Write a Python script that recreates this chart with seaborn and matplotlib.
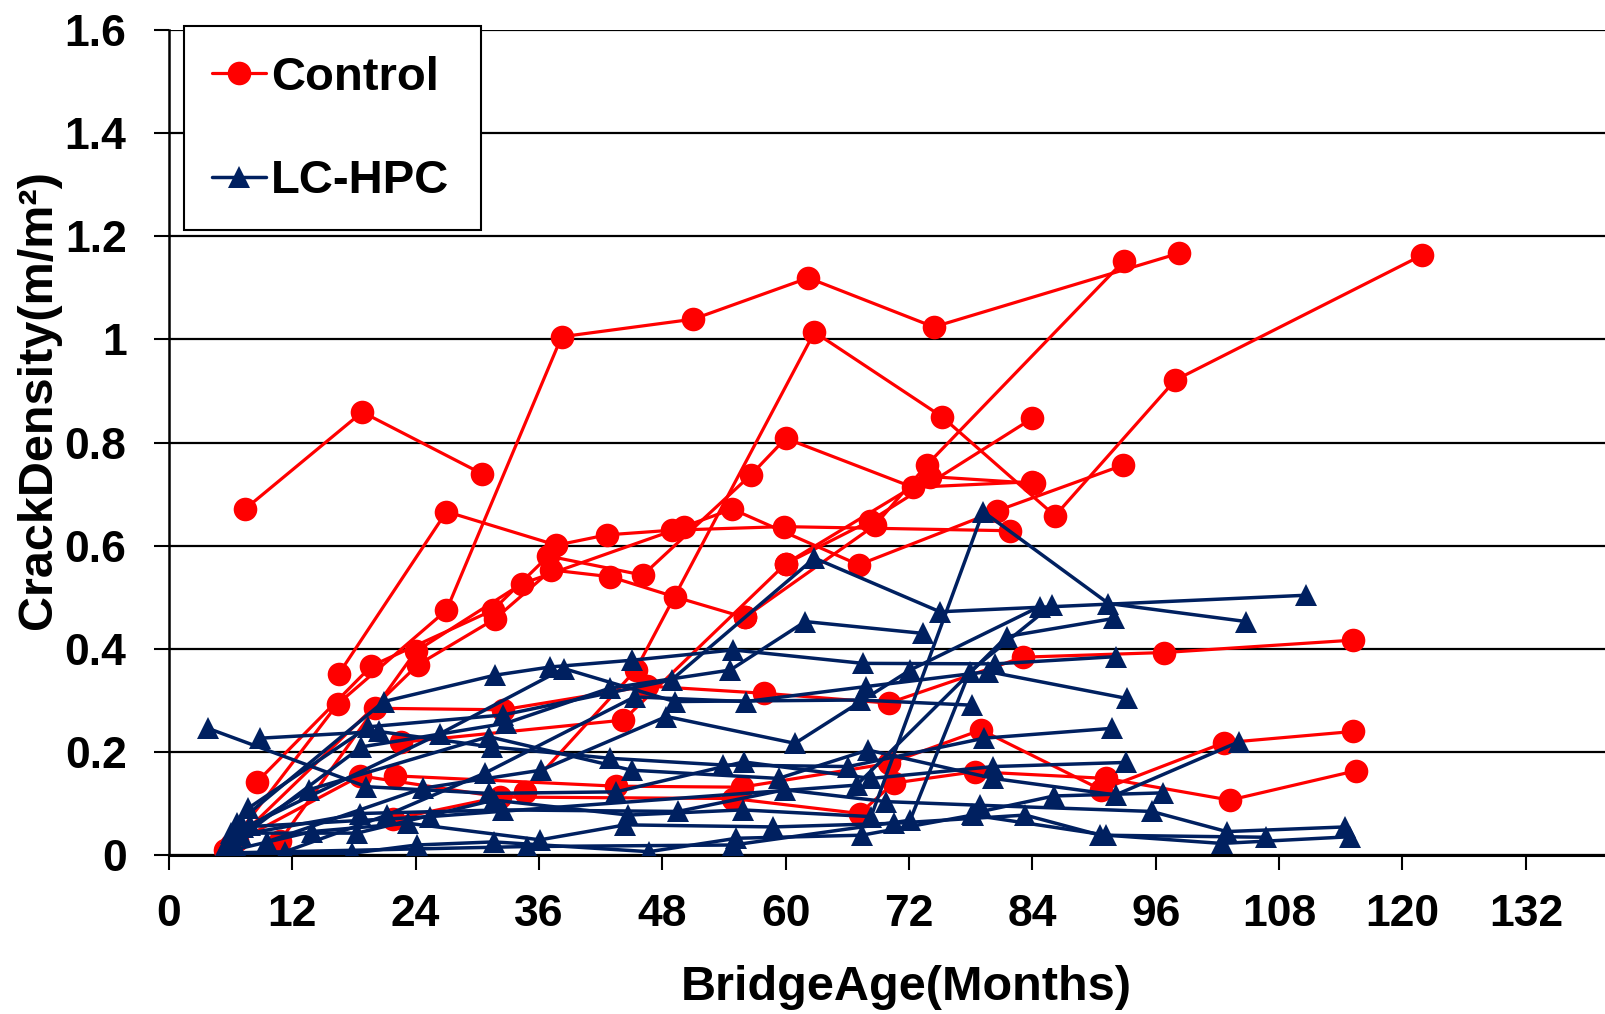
import numpy as np
import pandas as pd
import matplotlib
matplotlib.use("Agg")
import matplotlib.pyplot as plt
from matplotlib.lines import Line2D
from matplotlib.patches import Rectangle
import seaborn as sns

sns.set_style("white")
plt.rcParams['font.family'] = ['Liberation Sans', 'DejaVu Sans']
plt.rcParams['font.weight'] = 'bold'
plt.rcParams['text.color'] = 'black'
plt.rcParams['axes.labelcolor'] = 'black'
plt.rcParams['xtick.color'] = 'black'
plt.rcParams['ytick.color'] = 'black'

# ---------------- data (months, crack density m/m2) ----------------
control_months = [
    [7.4, 18.8, 30.5],
    [5.5, 16.4, 27.0, 38.2, 51.0, 62.2, 74.4, 98.3],
    [21.8, 34.6, 45.4, 62.8, 75.2, 86.2, 97.9, 121.9],
    [16.5, 27.0, 37.7, 42.6, 48.9, 59.8, 81.8],
    [8.6, 19.7, 31.5, 36.9, 46.1, 56.6, 60.0, 72.4, 84.0],
    [6.6, 24.2, 31.7, 37.2, 42.9, 49.2, 56.0],
    [10.8, 24.0, 34.3, 50.1, 54.8, 67.1, 80.6, 92.8],
    [20.0, 32.5, 46.5, 57.9, 70.0, 83.1, 96.8, 115.2],
    [22.6, 44.2, 60.0, 68.2, 84.0],
    [22.0, 43.5, 55.7, 70.0, 79.0, 90.7, 102.6, 115.2],
    [6.0, 18.6, 32.2, 54.9, 67.2, 70.5, 78.4, 91.2, 103.2, 115.5],
    [56.0, 68.7, 73.7, 92.9],
    [60.0, 74.0, 84.2],
]
control_values = [
    [0.671, 0.859, 0.739],
    [0.010, 0.293, 0.475, 1.005, 1.039, 1.119, 1.024, 1.167],
    [0.070, 0.123, 0.359, 1.014, 0.850, 0.658, 0.921, 1.163],
    [0.351, 0.666, 0.601, 0.621, 0.630, 0.637, 0.629],
    [0.143, 0.367, 0.475, 0.580, 0.543, 0.737, 0.808, 0.713, 0.724],
    [0.030, 0.369, 0.458, 0.553, 0.540, 0.501, 0.461],
    [0.028, 0.395, 0.526, 0.637, 0.671, 0.563, 0.668, 0.756],
    [0.285, 0.282, 0.328, 0.314, 0.295, 0.384, 0.393, 0.417],
    [0.219, 0.262, 0.565, 0.648, 0.847],
    [0.154, 0.134, 0.132, 0.178, 0.243, 0.127, 0.218, 0.240],
    [0.020, 0.154, 0.113, 0.110, 0.081, 0.140, 0.162, 0.149, 0.107, 0.164],
    [0.461, 0.640, 0.756, 1.152],
    [0.565, 0.734, 0.721],
]

lchpc_months = [
    [3.8, 19.2, 31.1, 43.5, 55.9, 68.3, 80.2, 93.1],
    [8.9, 20.4, 31.4, 42.9, 53.9, 66.1, 79.3, 91.7],
    [6.6, 20.9, 31.7, 37.1, 45.0, 54.9, 67.5, 80.4, 92.1],
    [7.7, 19.4, 32.5, 48.9, 62.8, 75.0, 110.6],
    [5.6, 18.7, 32.8, 42.9, 54.6, 61.9, 73.4],
    [7.9, 26.4, 38.4, 49.2, 67.2, 78.1],
    [9.5, 24.7, 36.2, 48.4, 60.9, 72.1, 84.7],
    [11.3, 21.2, 30.7, 45.3, 56.1, 67.8, 79.7, 93.2],
    [6.0, 18.3, 31.6, 44.7, 55.8, 68.3, 79.2, 91.4, 104.8],
    [5.8, 13.6, 31.1, 45.0, 59.3, 68.0, 80.2, 92.1, 104.1],
    [7.0, 18.6, 32.5, 49.5, 59.9, 69.8, 78.9, 95.6, 102.9, 114.4],
    [6.2, 13.9, 23.3, 36.1, 44.4, 58.8, 70.5, 83.3, 90.6, 106.7],
    [5.2, 17.8, 24.1, 31.6, 46.7, 55.2, 67.4, 78.2, 91.2, 102.4, 114.9],
    [6.8, 34.8, 54.9, 72.1, 77.9, 85.9],
    [7.2, 25.4, 66.9, 81.5, 91.9],
    [78.1, 86.1, 96.7],
]
lchpc_values = [
    [0.246, 0.133, 0.120, 0.123, 0.181, 0.149, 0.172, 0.180],
    [0.227, 0.240, 0.210, 0.188, 0.175, 0.172, 0.227, 0.246],
    [0.062, 0.298, 0.349, 0.365, 0.378, 0.398, 0.372, 0.371, 0.385],
    [0.091, 0.249, 0.272, 0.340, 0.576, 0.472, 0.504],
    [0.014, 0.210, 0.256, 0.324, 0.359, 0.453, 0.430],
    [0.059, 0.236, 0.362, 0.298, 0.301, 0.291],
    [0.026, 0.130, 0.165, 0.269, 0.217, 0.359, 0.482],
    [0.007, 0.078, 0.159, 0.307, 0.298, 0.327, 0.356, 0.304],
    [0.043, 0.043, 0.107, 0.078, 0.088, 0.075, 0.666, 0.488, 0.453],
    [0.030, 0.127, 0.230, 0.165, 0.149, 0.204, 0.149, 0.117, 0.220],
    [0.040, 0.081, 0.088, 0.085, 0.127, 0.104, 0.097, 0.085, 0.046, 0.055],
    [0.010, 0.046, 0.062, 0.030, 0.059, 0.055, 0.062, 0.078, 0.039, 0.035],
    [0.004, 0.004, 0.020, 0.026, 0.007, 0.033, 0.039, 0.078, 0.039, 0.023, 0.036],
    [0.005, 0.017, 0.020, 0.068, 0.356, 0.485],
    [0.055, 0.075, 0.136, 0.424, 0.459],
    [0.081, 0.115, 0.121],
]

x_ticks = [0, 12, 24, 36, 48, 60, 72, 84, 96, 108, 120, 132]
y_ticks = [0, 0.2, 0.4, 0.6, 0.8, 1.0, 1.2, 1.4, 1.6]
y_tick_labels = ["0", "0.2", "0.4", "0.6", "0.8", "1", "1.2", "1.4", "1.6"]

RED = "#FF0000"
NAVY = "#002060"


def to_frame(months, values, group):
    rows = []
    for i, (ms, vs) in enumerate(zip(months, values)):
        for m, v in zip(ms, vs):
            rows.append({"bridge": f"{group}{i}", "month": m, "value": v})
    return pd.DataFrame(rows)


df_ctrl = to_frame(control_months, control_values, "C")
df_lc = to_frame(lchpc_months, lchpc_values, "L")

fig = plt.figure(figsize=(16.06, 10.14), dpi=100)
ax = fig.add_axes([0.1052, 0.1565, 0.8948, 0.8142])

sns.lineplot(data=df_ctrl, x="month", y="value", units="bridge", estimator=None,
             sort=False, color=RED, marker="o", markersize=17, markeredgewidth=0,
             linewidth=2.3, legend=False, ax=ax, zorder=3)
sns.lineplot(data=df_lc, x="month", y="value", units="bridge", estimator=None,
             sort=False, color=NAVY, marker="^", markersize=16, markeredgewidth=0,
             linewidth=2.5, legend=False, ax=ax, zorder=4)

ax.set_xlim(0, 139.8)
ax.set_ylim(0, 1.6)
ax.set_xticks(x_ticks)
ax.set_yticks(y_ticks)
ax.set_yticklabels(y_tick_labels)
ax.tick_params(axis="both", which="major", labelsize=32, direction="out",
               length=10.5, width=1.5, color="black", labelcolor="black")
ax.tick_params(axis="x", pad=17, bottom=True)
ax.tick_params(axis="y", pad=20, left=True)
for lab in ax.get_xticklabels() + ax.get_yticklabels():
    lab.set_fontweight("bold")

ax.yaxis.grid(True, color="black", linewidth=1.6)
ax.xaxis.grid(False)
ax.set_axisbelow(True)
for side in ["top", "right"]:
    ax.spines[side].set_visible(False)
ax.spines["left"].set_color("black")
ax.spines["left"].set_linewidth(1.8)
ax.spines["bottom"].set_color("black")
ax.spines["bottom"].set_linewidth(2.2)
ax.set_xlabel("")
ax.set_ylabel("")

fig.text(906 / 1606, 1 - 988 / 1014, "BridgeAge(Months)", ha="center", va="center",
         fontsize=35, fontweight="bold", color="black")
fig.text(39 / 1606, 1 - 400 / 1014, "CrackDensity(m/m²)", ha="center", va="center",
         rotation=90, fontsize=35, fontweight="bold", color="black")

# legend box
rect = Rectangle((184 / 1606, 1 - 230 / 1014), (481 - 184) / 1606, (230 - 25.6) / 1014,
                 transform=fig.transFigure, facecolor="white", edgecolor="black",
                 linewidth=1.5, zorder=10)
fig.patches.append(rect)
handles = [
    Line2D([0], [0], color=RED, marker="o", markersize=17, markeredgewidth=0, linewidth=2.3),
    Line2D([0], [0], color=NAVY, marker="^", markersize=16, markeredgewidth=0, linewidth=2.5),
]
leg = fig.legend(handles, ["Control", "LC-HPC"], loc="upper left",
                 bbox_to_anchor=(212 / 1606, 1 - 56 / 1014), frameon=False,
                 prop={"size": 34, "weight": "bold"}, handlelength=1.15,
                 handletextpad=0.1, labelspacing=1.25, borderpad=0, borderaxespad=0,
                 labelcolor="black")
leg.set_zorder(11)

fig.savefig("out.png", dpi=100)
